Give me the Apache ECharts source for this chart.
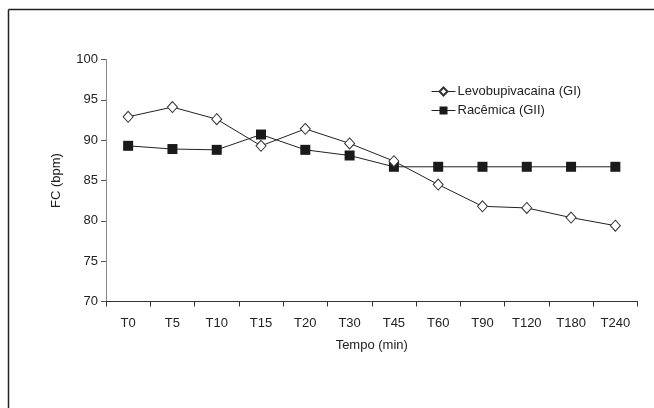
<!DOCTYPE html>
<html><head><meta charset="utf-8">
<script src="https://cdn.jsdelivr.net/npm/echarts@6/dist/echarts.min.js"></script>
<style>html,body{margin:0;padding:0;background:#fff}#c{width:654px;height:408px}</style>
</head><body><div id="c"></div>
<script>
const categories = ['T0','T5','T10','T15','T20','T30','T45','T60','T90','T120','T180','T240'];
const levo = [92.9, 94.1, 92.6, 89.3, 91.4, 89.6, 87.4, 84.5, 81.8, 81.6, 80.4, 79.4];
const race = [89.3, 88.9, 88.8, 90.7, 88.8, 88.1, 86.7, 86.7, 86.7, 86.7, 86.7, 86.7];
const yTicks = [70, 75, 80, 85, 90, 95, 100];
const seriesNames = ['Levobupivacaina (GI)', 'Racêmica (GII)'];

const chart = echarts.init(document.getElementById('c'), null, {renderer: 'canvas'});
const font = 'Liberation Sans, Arial, sans-serif';
chart.setOption({
  animation: false,
  backgroundColor: '#fff',
  textStyle: {fontFamily: font},
  graphic: [
    {type: 'line', shape: {x1: 8.5, y1: 9.5, x2: 654, y2: 9.5}, style: {stroke: '#222', lineWidth: 1.5}},
    {type: 'line', shape: {x1: 8.5, y1: 9.5, x2: 8.5, y2: 408}, style: {stroke: '#222', lineWidth: 1.5}}
  ],
  grid: {left: 106, right: 16.5, top: 59.5, bottom: 106.5, containLabel: false},
  legend: {
    left: 431, top: 85, orient: 'vertical', padding: 0, itemWidth: 24, itemHeight: 10, itemGap: 6,
    textStyle: {fontSize: 13, color: '#222', fontFamily: font, padding: [0,0,0,-3]},
    lineStyle: {width: 1},
    data: seriesNames
  },
  xAxis: {
    type: 'category', data: categories, boundaryGap: true,
    name: 'Tempo (min)', nameLocation: 'middle', nameGap: 37,
    nameTextStyle: {fontSize: 13, color: '#222', fontFamily: font},
    axisLine: {lineStyle: {color: '#333', width: 1}},
    axisTick: {show: true, length: 5, lineStyle: {color: '#333'}},
    axisLabel: {fontSize: 13, color: '#222', margin: 15, fontFamily: font},
    splitLine: {show: false}
  },
  yAxis: {
    type: 'value', min: yTicks[0], max: yTicks[yTicks.length-1], interval: 5,
    name: 'FC (bpm)', nameLocation: 'middle', nameGap: 43, nameRotate: 90,
    nameTextStyle: {fontSize: 13, color: '#222', fontFamily: font},
    axisLine: {show: true, lineStyle: {color: '#888', width: 1}},
    axisTick: {show: true, length: 5, lineStyle: {color: '#555'}},
    axisLabel: {fontSize: 13, color: '#222', margin: 8, fontFamily: font},
    splitLine: {show: false}
  },
  series: [
    {name: seriesNames[0], type: 'line', data: levo, symbol: 'diamond', symbolSize: [10, 11],
     lineStyle: {color: '#222', width: 1},
     itemStyle: {color: '#fff', borderColor: '#333', borderWidth: 1}, z: 3},
    {name: seriesNames[1], type: 'line', data: race, symbol: 'rect', symbolSize: 10,
     lineStyle: {color: '#222', width: 1},
     itemStyle: {color: '#1a1a1a', borderColor: '#1a1a1a', borderWidth: 0}, z: 2}
  ]
});
</script></body></html>
